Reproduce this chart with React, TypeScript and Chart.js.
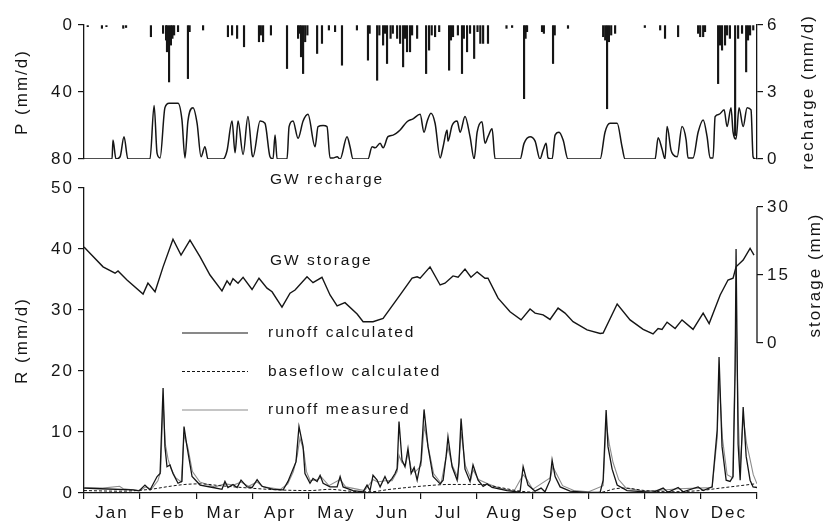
import React, { useEffect, useRef } from 'react';
import { Chart, registerables } from 'chart.js';

Chart.register(...registerables);

const FONT = "'Liberation Sans', Arial, Helvetica, sans-serif";
const INK = '#151515';

// ---- axis / tick definitions ----
const monthLabels = ['Jan', 'Feb', 'Mar', 'Apr', 'May', 'Jun', 'Jul', 'Aug', 'Sep', 'Oct', 'Nov', 'Dec'];
const monthTicks = [0, 30, 60, 90, 120, 150, 180, 210, 240, 270, 300, 330, 360];
const pTicks = [0, 40, 80];
const rechargeTicks = [0, 3, 6];
const rTicks = [0, 10, 20, 30, 40, 50];
const storageTicks = [0, 15, 30];

// ---- data: [day of (12 x 30-day) year, value] ----
const precipitation: [number, number][] = [
  [2, 1], [9.6, 2], [12, 1], [21, 2], [22.5, 1.5], [35.8, 7], [42.3, 5], [43.9, 9], [44.4, 16], [45.5, 34],
  [46.5, 12], [47.3, 8], [48.2, 6], [50.3, 4], [55.6, 32], [56.5, 4], [63.7, 3], [77, 7], [79.2, 6], [81.9, 8],
  [85.6, 13], [93.6, 10], [94.6, 6], [95.8, 10], [100, 6], [108.6, 26], [114.5, 8], [115.3, 5], [116.1, 19],
  [117.2, 29], [118.3, 10], [119.5, 6], [124.7, 17], [127.3, 11], [131, 3], [134.3, 4], [138, 24], [146, 3],
  [151.9, 21], [152.8, 5], [156.8, 33], [158, 6], [160, 12], [161, 5], [162.1, 23], [164, 8], [165.2, 5],
  [167.5, 8], [169.1, 11], [170.7, 25], [171.7, 8], [172.8, 16], [174.4, 16], [175.5, 6], [178.2, 8], [183, 29],
  [184.6, 15], [186, 6], [187.8, 7], [190, 4], [195.3, 27], [196.3, 9], [197.4, 7], [200, 6], [202.2, 29],
  [203.2, 8], [204.9, 16], [206.5, 5], [208.7, 20], [210.5, 4], [212, 11], [213.5, 11], [216.1, 11], [226, 2],
  [229, 1.5], [235.4, 44], [236.2, 8], [237, 4], [245, 4], [246, 5], [250.9, 23], [251.8, 6], [258.9, 2],
  [277.7, 7], [278.8, 9], [279.8, 50], [280.8, 10], [282, 6], [284.1, 5], [300, 1.5], [308.2, 3], [310.8, 8],
  [317.8, 7], [328.5, 5], [329.6, 7], [331.2, 7], [332.2, 4], [339.2, 35], [340.2, 12], [341.3, 15], [342.9, 12],
  [344, 6], [345.5, 8], [348.3, 66], [349.9, 8], [352, 5], [354.2, 28], [355.2, 9], [356.3, 6], [358, 3],
];

const recharge: [number, number][] = [
  [0, 0], [15, 0], [15.5, 0.85], [17.1, 0], [19.3, 0.1], [21.4, 1.0], [23.5, 0], [35.3, 0], [37.5, 2.4],
  [39.1, 0.25], [40.7, 0.05], [43.3, 2.3], [45.5, 2.5], [50.3, 2.5], [52.4, 1.75], [54, 0.05], [55.6, 1.7],
  [58.3, 2.3], [60.5, 1.6], [62.6, 0.1], [64.7, 0.55], [66.3, 0], [74.4, 0], [76.5, 0.37], [79.2, 1.7],
  [80.8, 0.28], [82.4, 1.7], [85.1, 0.2], [87.7, 1.9], [89.9, 0.2], [90.4, 0.1], [94.2, 1.7], [96.8, 1.6],
  [99.5, 0.1], [101.1, 0], [102.2, 1.07], [103.3, 0], [108.6, 0], [109.7, 1.45], [111.8, 1.7], [114.5, 0.93],
  [117.2, 1.7], [119.8, 2.0], [123.6, 0.55], [125.2, 1.45], [127.9, 1.5], [130, 1.45], [131.6, 0.05],
  [133.2, 0.05], [135.4, 0.1], [137, 0], [140.7, 1.0], [142.3, 0.55], [143.9, 0], [151.9, 0], [154.1, 0.55],
  [155.7, 0.5], [158.4, 0.7], [160, 0.5], [162.6, 1.0], [165.3, 1.07], [169.1, 1.3], [172.8, 1.67], [176, 1.8],
  [179.8, 2.0], [181.9, 1.2], [183.5, 1.67], [185.6, 2.05], [187.8, 1.6], [190.5, 0.05], [192.1, 0.55],
  [194.2, 1.3], [194.7, 0.8], [196.9, 1.5], [199.6, 1.7], [201.2, 1.2], [203.8, 1.9], [206.5, 1.0], [208.7, 0],
  [210.3, 1.2], [212.9, 1.67], [214.5, 0.7], [216.1, 1.0], [218.3, 1.35], [219.9, 0], [233.3, 0], [235.4, 0.7],
  [238.6, 1.0], [241.3, 0.8], [243.9, 0], [245.6, 0.4], [247.2, 0.7], [248.2, 0.05], [250.4, 0], [252, 1.07],
  [254.1, 1.2], [256.3, 0.85], [258.9, 0], [276.1, 0], [278.7, 1.2], [281.4, 1.6], [285.2, 1.6], [287.8, 0.55],
  [289.4, 0], [305.5, 0], [307.1, 0.95], [309.2, 0.45], [310.8, 0], [311.9, 1.45], [314, 0.4], [315.1, 0.2],
  [317.3, 0.1], [319.9, 1.45], [322.1, 0.85], [323.1, 0.05], [325.8, 0.05], [328.5, 1.2], [331.2, 1.75],
  [333.3, 1.0], [334.9, 0.05], [336.5, 0.05], [337.6, 1.9], [339.7, 2.0], [342.4, 2.2], [344, 1.45], [346.1, 2.3],
  [347.2, 1.2], [348.8, 0.9], [350.4, 2.3], [352.6, 1.45], [354.7, 2.3], [356.8, 2.2], [357.9, 0.1], [359, 0],
  [360, 0],
];

const gwStorage: [number, number][] = [
  [0, 21.2], [3.2, 19.8], [10.2, 16.8], [16.6, 15.4], [18.2, 15.9], [23, 13.9], [31.6, 10.8], [34.2, 13.2],
  [38, 11.3], [42.3, 16.8], [47.6, 22.9], [51.9, 19.4], [56.7, 22.7], [62.1, 19.0], [67.4, 15.0], [73.8, 11.5],
  [76.5, 13.7], [78.1, 12.8], [79.7, 14.2], [82.4, 13.2], [85.1, 14.5], [89.9, 11.8], [93.6, 14.3], [97.9, 12.1],
  [100.6, 11.3], [105.9, 7.9], [110.2, 11.0], [112.9, 11.7], [119.3, 14.6], [122.5, 13.3], [127.3, 14.5],
  [131.6, 10.6], [135.4, 8.2], [139.6, 8.9], [146.1, 6.4], [149.3, 4.7], [154.6, 4.7], [160, 5.4], [169.1, 10.6],
  [175.5, 14.3], [178.2, 14.6], [179.8, 14.3], [185.1, 16.8], [190.5, 12.8], [193.1, 13.2], [197.4, 14.8],
  [200.1, 14.5], [203.8, 16.3], [207, 14.5], [210.3, 15.7], [214.5, 14.3], [216.1, 14.3], [221.5, 9.9],
  [227.9, 6.9], [233.8, 5.1], [238.6, 7.5], [241.3, 6.6], [245.6, 6.2], [249.3, 5.2], [253.6, 7.7], [257.3, 6.6],
  [261.6, 4.7], [269.1, 2.9], [276.1, 2.1], [277.7, 2.2], [285.2, 8.6], [292.1, 5.1], [299.1, 3.0], [304.4, 2.0],
  [307.1, 3.2], [309.2, 3.0], [311.9, 4.6], [316.2, 3.2], [319.9, 5.1], [325.8, 3.0], [331.2, 6.6], [334.4, 4.3],
  [340.3, 10.6], [344.5, 13.9], [347.2, 14.3], [348.8, 16.8], [352.6, 18.3], [356.3, 20.9], [358.4, 19.4],
];

const runoffCalculated: [number, number][] = [
  [0, 0.8], [8.6, 0.7], [26.2, 0.5], [29.4, 0.35], [32.6, 1.3], [35.3, 0.5], [39.1, 2.7], [40.7, 3.2],
  [42.3, 17.2], [43.3, 7.6], [44.4, 4.3], [46, 4.6], [47.6, 3.2], [50.3, 1.6], [52.4, 1.9], [53.5, 10.9],
  [55.1, 7.6], [57.8, 2.7], [62.1, 1.3], [69, 0.9], [73.8, 0.6], [75.4, 1.9], [77, 0.9], [79.7, 1.4], [81.9, 0.9],
  [84, 2.1], [87.2, 1.0], [89.9, 0.9], [92.6, 2.2], [95.2, 1.1], [101.1, 0.6], [106.5, 0.5], [109.1, 1.9],
  [111.8, 3.9], [113.4, 5.1], [115, 10.9], [117.2, 7.6], [118.2, 3.2], [120.9, 1.6], [122.5, 2.4], [124.7, 1.9],
  [126.3, 2.9], [127.9, 1.6], [131.6, 1.0], [135.4, 1.0], [137, 2.7], [138.6, 1.0], [143.9, 0.4], [149.3, 0.2],
  [151.4, 1.3], [153, 0.4], [154.6, 2.9], [156.8, 2.1], [158.4, 1.0], [161, 2.7], [162.6, 1.6], [164.8, 2.4],
  [166.4, 3.2], [167.5, 4.0], [168.5, 11.7], [170.1, 5.4], [171.7, 4.3], [173.3, 7.3], [175, 3.2], [176.6, 4.2],
  [178.2, 2.1], [180.3, 5.4], [181.9, 13.7], [184, 7.6], [186.7, 2.7], [190.5, 1.5], [192.1, 2.1], [193.7, 6.0],
  [194.7, 9.2], [196.9, 4.3], [199.6, 2.1], [200.6, 5.0], [201.7, 12.2], [203.8, 3.9], [206.5, 1.9], [208.1, 4.6],
  [210.8, 2.1], [213.5, 1.1], [215.6, 1.5], [218.3, 0.9], [226.3, 0.4], [231.7, 0.2], [233.3, 0.3], [234.9, 4.3],
  [237.5, 1.3], [241.3, 0.3], [244.5, 0.8], [246.6, 0.2], [249.3, 2.1], [250.4, 5.4], [252, 2.7], [254.7, 1.0],
  [260, 0.3], [269.1, 0.1], [276.1, 0.1], [277.7, 2.1], [279.3, 13.6], [280.3, 7.6], [282.5, 3.9], [285.2, 1.3],
  [290.5, 0.4], [304.4, 0.1], [309.8, 0.8], [312.4, 0.1], [317.8, 0.9], [320.5, 0.2], [328.5, 1.0], [331.2, 0.4],
  [336, 1.0], [338.7, 10.3], [339.7, 22.3], [341.3, 7.6], [343.5, 2.1], [345.6, 1.9], [347.2, 2.7], [348.3, 20],
  [348.8, 40], [349.9, 8], [351, 2.1], [352.6, 14.1], [354.2, 6.0], [356.3, 2.1], [357.9, 1.0], [360, 0.9],
];

const baseflowCalculated: [number, number][] = [
  [0, 0.4], [19.3, 0.3], [35.3, 0.6], [46, 1.1], [54, 1.4], [62, 1.5], [72.8, 1.2], [88.8, 0.8], [104.9, 0.5],
  [120.9, 0.4], [131.6, 0.6], [142.3, 0.3], [153, 0.2], [163.7, 0.6], [179.8, 1.1], [195.8, 1.4], [211.9, 1.4],
  [222.6, 0.9], [233.3, 0.3], [243.9, 0.1], [265.4, 0.05], [276.1, 0.1], [284.1, 0.7], [289.4, 0.8], [300.1, 0.4],
  [313.5, 0.2], [329.6, 0.4], [340.3, 0.8], [351, 1.2], [359, 1.5],
];

const runoffMeasured: [number, number][] = [
  [0, 0.9], [10, 0.8], [19, 1.1], [21, 0.7], [30, 0.4], [33, 1.0], [36, 0.6], [39.5, 2.0], [41, 3.5], [42.3, 15],
  [43.5, 8], [45, 5.5], [46.5, 4.0], [49, 2.5], [52, 1.8], [53.5, 9.5], [55.5, 7.5], [58, 3.5], [62, 1.8], [70, 1.0],
  [75.4, 1.5], [80, 1.3], [84, 1.8], [88, 1.1], [92.6, 1.8], [96, 1.0], [105, 0.6], [109, 1.5], [112, 3.5], [114, 6],
  [115.5, 9], [117.5, 7], [119, 3.5], [121, 2.0], [125, 2.2], [127, 2.6], [131, 1.2], [137, 2.2], [140, 1.0],
  [150, 0.4], [151.4, 0.9], [154.6, 2.2], [157, 1.8], [161, 2.0], [164.8, 2.0], [167.5, 3.5], [168.5, 6.2], [170, 5.0],
  [172, 4.5], [173.3, 6.6], [175, 4.0], [177, 3.4], [180.3, 4.5], [182, 11], [184.5, 7], [187, 3.2], [191, 1.6],
  [194.7, 7.5], [197, 4.5], [200, 2.5], [201.7, 10], [204, 4.5], [207, 2.3], [208.1, 3.8], [211, 2.2], [216, 1.5],
  [222, 0.8], [230, 0.3], [234.9, 3.0], [237, 2.2], [240, 0.6], [249.5, 2.5], [250.8, 4.3], [253, 3.0], [256, 1.2],
  [262, 0.4], [270, 0.2], [277.7, 1.2], [279.3, 11.5], [281, 8], [283, 5], [286, 2.2], [290, 0.8], [300, 0.3],
  [310, 0.5], [318, 0.7], [328.5, 0.8], [336, 0.9], [338.7, 9], [339.7, 19], [341.5, 9], [344, 3], [347, 2.5],
  [348.8, 30], [350, 12], [351, 4], [352.6, 12.5], [354.5, 8], [356.3, 5.5], [358, 3], [360, 1.5],
];

const legendItems = [
  { label: 'runoff calculated', color: INK, dash: [] as number[], width: 1.2 },
  { label: 'baseflow calculated', color: INK, dash: [3, 2], width: 1.1 },
  { label: 'runoff measured', color: '#8c8c8c', dash: [] as number[], width: 1.1 },
];

const toXY = (a: [number, number][]) => a.map(([x, y]) => ({ x, y }));

const setSpacing = (chart: any) => {
  (chart.ctx as any).letterSpacing = '2px';
};

const spacingPlugin = {
  id: 'spacing',
  beforeLayout: setSpacing,
  beforeDraw: setSpacing,
};

const axisTickFont = { family: FONT, size: 17 };

const fixedTicks = (vals: number[]) => (s: any) => {
  s.ticks = vals.map((v) => ({ value: v }));
};

const topAnnotations = {
  id: 'topAnnotations',
  afterDraw(chart: any) {
    const { ctx, chartArea: a } = chart;
    ctx.save();
    ctx.letterSpacing = '2px';
    ctx.fillStyle = INK;
    ctx.font = `17px ${FONT}`;
    ctx.textAlign = 'center';
    ctx.textBaseline = 'middle';
    ctx.translate(a.right + 51, (a.top + a.bottom) / 2);
    ctx.rotate(-Math.PI / 2);
    ctx.fillText('recharge (mm/d)', 0, 0);
    ctx.restore();
  },
};

const bottomAnnotations = {
  id: 'bottomAnnotations',
  afterDraw(chart: any) {
    const { ctx, chartArea: a, scales } = chart;
    const s = scales.yS;
    const y0 = s.getPixelForValue(storageTicks[0]);
    const y1 = s.getPixelForValue(storageTicks[storageTicks.length - 1]);
    ctx.save();
    // partial storage axis line
    ctx.strokeStyle = INK;
    ctx.lineWidth = 1.3;
    ctx.beginPath();
    ctx.moveTo(a.right, y0);
    ctx.lineTo(a.right, y1);
    ctx.stroke();

    ctx.letterSpacing = '2px';
    ctx.fillStyle = INK;
    ctx.textBaseline = 'middle';
    ctx.textAlign = 'left';
    ctx.font = `15.5px ${FONT}`;
    ctx.fillText('GW recharge', a.left + 186, a.top - 8);
    ctx.fillText('GW storage', a.left + 186, a.top + 73);

    legendItems.forEach((it, i) => {
      const y = a.top + 145 + i * 38.5;
      ctx.save();
      ctx.strokeStyle = it.color;
      ctx.lineWidth = it.width;
      ctx.setLineDash(it.dash);
      ctx.beginPath();
      ctx.moveTo(a.left + 98, y);
      ctx.lineTo(a.left + 164, y);
      ctx.stroke();
      ctx.restore();
      ctx.fillText(it.label, a.left + 184, y);
    });

    ctx.font = `17px ${FONT}`;
    ctx.textAlign = 'center';
    ctx.translate(a.right + 58, (y0 + y1) / 2);
    ctx.rotate(-Math.PI / 2);
    ctx.fillText('storage (mm)', 0, 0);
    ctx.restore();
  },
};

export default function App() {
  const topRef = useRef<HTMLCanvasElement>(null);
  const botRef = useRef<HTMLCanvasElement>(null);

  useEffect(() => {
    Chart.defaults.font.family = FONT;
    Chart.defaults.color = INK;

    const commonGrid = { drawOnChartArea: false, tickLength: 6, color: INK, lineWidth: 1.2 };
    const commonBorder = { color: INK, width: 1.3 };

    const top = new Chart(topRef.current as HTMLCanvasElement, {
      type: 'line',
      data: {
        datasets: [
          {
            type: 'line',
            data: toXY(recharge),
            xAxisID: 'x',
            yAxisID: 'yRe',
            borderColor: INK,
            borderWidth: 1.5,
            pointRadius: 0,
            cubicInterpolationMode: 'monotone',
          } as any,
          {
            type: 'bar',
            data: toXY(precipitation),
            xAxisID: 'x',
            yAxisID: 'yP',
            backgroundColor: INK,
            borderWidth: 0,
            barThickness: 1.5,
            grouped: false,
          } as any,
        ],
      },
      options: {
        responsive: false,
        animation: false,
        layout: { padding: { top: 25, bottom: 370, left: 0, right: 0 } },
        plugins: { legend: { display: false }, tooltip: { enabled: false } },
        scales: {
          x: { type: 'linear', min: 0, max: 360, display: false, offset: false },
          yP: {
            type: 'linear',
            position: 'left',
            reverse: true,
            min: 0,
            max: 80,
            afterBuildTicks: fixedTicks(pTicks),
            afterFit: (s: any) => { s.width = 84; },
            grid: commonGrid,
            border: commonBorder,
            ticks: { font: axisTickFont, color: INK, padding: 4 },
            title: { display: true, text: 'P (mm/d)', font: { family: FONT, size: 17 }, color: INK, padding: { top: 12, bottom: 0 } },
          },
          yRe: {
            type: 'linear',
            position: 'right',
            min: 0,
            max: 6,
            afterBuildTicks: fixedTicks(rechargeTicks),
            afterFit: (s: any) => { s.width = 71; },
            grid: commonGrid,
            border: commonBorder,
            ticks: { font: axisTickFont, color: INK, padding: 4 },
          },
        } as any,
      },
      plugins: [spacingPlugin, topAnnotations],
    });

    const bottom = new Chart(botRef.current as HTMLCanvasElement, {
      type: 'line',
      data: {
        datasets: [
          {
            data: toXY(runoffCalculated),
            yAxisID: 'yR',
            borderColor: INK,
            borderWidth: 1.3,
            pointRadius: 0,
          },
          {
            data: toXY(baseflowCalculated),
            yAxisID: 'yR',
            borderColor: INK,
            borderWidth: 1.0,
            borderDash: [3, 2],
            pointRadius: 0,
            cubicInterpolationMode: 'monotone',
          },
          {
            data: toXY(runoffMeasured),
            yAxisID: 'yR',
            borderColor: '#8c8c8c',
            borderWidth: 1.1,
            pointRadius: 0,
          },
          {
            data: toXY(gwStorage),
            yAxisID: 'yS',
            borderColor: INK,
            borderWidth: 1.4,
            pointRadius: 0,
          },
        ] as any,
      },
      options: {
        responsive: false,
        animation: false,
        layout: { padding: { top: 188, bottom: 0, left: 0, right: 0 } },
        plugins: { legend: { display: false }, tooltip: { enabled: false } },
        scales: {
          x: {
            type: 'linear',
            min: 0,
            max: 360,
            offset: false,
            afterBuildTicks: fixedTicks(monthTicks),
            afterFit: (s: any) => { s.height = 36; },
            grid: commonGrid,
            border: commonBorder,
            ticks: {
              font: axisTickFont,
              color: INK,
              padding: 4,
              autoSkip: false,
              maxRotation: 0,
              labelOffset: 28,
              callback: (_v: any, i: number) => monthLabels[i] ?? '',
            },
          },
          yR: {
            type: 'linear',
            position: 'left',
            min: 0,
            max: 50,
            afterBuildTicks: fixedTicks(rTicks),
            afterFit: (s: any) => { s.width = 84; },
            grid: commonGrid,
            border: commonBorder,
            ticks: { font: axisTickFont, color: INK, padding: 4 },
            title: { display: true, text: 'R (mm/d)', font: { family: FONT, size: 17 }, color: INK, padding: { top: 12, bottom: 0 } },
          },
          yS: {
            type: 'linear',
            position: 'right',
            min: -33.1,
            max: 34.2,
            afterBuildTicks: fixedTicks(storageTicks),
            afterFit: (s: any) => { s.width = 71; },
            grid: commonGrid,
            border: { display: false },
            ticks: { font: axisTickFont, color: INK, padding: 4 },
          },
        } as any,
      },
      plugins: [spacingPlugin, bottomAnnotations],
    });

    return () => {
      top.destroy();
      bottom.destroy();
    };
  }, []);

  const canvasStyle: React.CSSProperties = { position: 'absolute', left: 0, top: 0 };
  return (
    <div style={{ position: 'fixed', left: 0, top: 0, width: 828, height: 529, background: '#fff' }}>
      <canvas ref={topRef} width={828} height={529} style={canvasStyle} />
      <canvas ref={botRef} width={828} height={529} style={canvasStyle} />
    </div>
  );
}
